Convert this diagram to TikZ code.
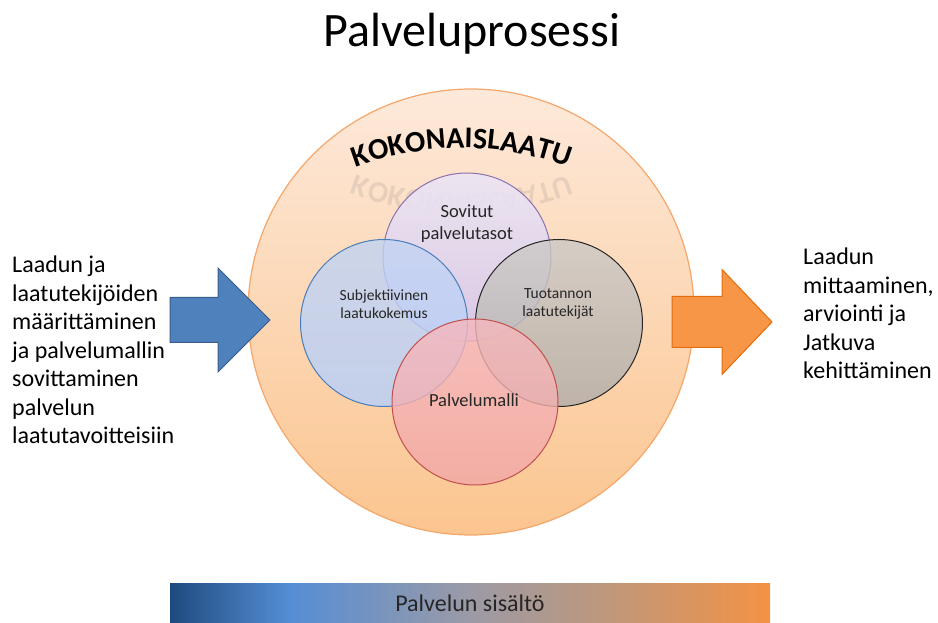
\documentclass[tikz,border=0pt]{standalone}
\usepackage{fontspec}
\setmainfont{Carlito}
\usepackage{xcolor}
\usetikzlibrary{calc}

\definecolor{kokYla}{HTML}{FDE9DA}
\definecolor{kokAla}{HTML}{FBC58F}
\definecolor{kokReuna}{HTML}{F5A66A}
\definecolor{violYla}{HTML}{ECE5F4}
\definecolor{violAla}{HTML}{D6C6E8}
\definecolor{violReuna}{HTML}{8C72AD}
\definecolor{siniYla}{HTML}{C2D3F2}
\definecolor{siniAla}{HTML}{B6D0FC}
\definecolor{siniReuna}{HTML}{4A7EBB}
\definecolor{harmYla}{HTML}{CCC9C6}
\definecolor{harmAla}{HTML}{B0ADAA}
\definecolor{harmReuna}{HTML}{262626}
\definecolor{punYla}{HTML}{F6B8BE}
\definecolor{punAla}{HTML}{F2A7A6}
\definecolor{punReuna}{HTML}{C0504D}
\definecolor{nuoliSini}{HTML}{4F81BD}
\definecolor{nuoliSiniR}{HTML}{385D8A}
\definecolor{nuoliOra}{HTML}{F79646}
\definecolor{nuoliOraR}{HTML}{E46C0A}
\definecolor{palkkiA}{HTML}{1F4A7F}
\definecolor{palkkiB}{HTML}{558ED5}
\definecolor{palkkiC}{HTML}{9C9AA6}
\definecolor{palkkiD}{HTML}{BA9880}
\definecolor{palkkiE}{HTML}{F39245}

\pgfdeclarehorizontalshading{palkkisavy}{100bp}{color(0bp)=(palkkiA); color(25bp)=(palkkiA); color(35bp)=(palkkiB); color(50bp)=(palkkiC); color(60bp)=(palkkiD); color(75bp)=(palkkiE); color(100bp)=(palkkiE)}

\tikzset{
  ympyra/.style={line width=1pt, fill opacity=0.8},
  sisateksti/.style={align=center, inner sep=0pt, text=black!85},
  sivuteksti/.style={align=left, anchor=north west, inner sep=0pt,
    font=\fontsize{24}{28.5}\selectfont},
  kirjain/.style={anchor=base, inner sep=0pt, font=\bfseries\fontsize{30}{36}\selectfont}
}

\begin{document}
\begin{tikzpicture}[x=1pt,y=1pt]
\useasboundingbox (0,0) rectangle (938,622);

% otsikko
\node[anchor=base, font=\fontsize{48}{58}\selectfont] (otsikko) at (472,575) {Palveluprosessi};

% kokonaislaatu, iso ympyra
\shade[top color=kokYla, bottom color=kokAla, draw=kokReuna, line width=1.2pt]
  (471,310) circle [radius=223];

% heijastus
\begin{scope}[shift={(0,902)}, yscale=-1, shift={(462,174)}]
  \foreach \kirj/\kulma [count=\i] in {K/109.13, O/105.66, K/102.18, O/98.71, N/94.88,
      A/91.26, I/88.76, S/86.64, L/84.07, A/81.12, A/77.65, T/74.49, U/71.20}
    \node[kirjain, transform shape, rotate=\kulma-90, text=gray, text opacity=0.18]
      (h\i) at (\kulma:300) {\kirj};
\end{scope}

% kaareva otsikko
\begin{scope}[shift={(462,174)}]
  \foreach \kirj/\kulma [count=\i] in {K/109.13, O/105.66, K/102.18, O/98.71, N/94.88,
      A/91.26, I/88.76, S/86.64, L/84.07, A/81.12, A/77.65, T/74.49, U/71.20}
    \node[kirjain, rotate=\kulma-90] (k\i) at (\kulma:300) {\kirj};
\end{scope}

% neljä ympyrää
\shade[ympyra, fill opacity=0.92, top color=violYla, bottom color=violAla, draw=violReuna]
  (467,365) circle [radius=84];
\shade[ympyra, top color=siniYla, bottom color=siniAla, draw=siniReuna]
  (384,299) circle [radius=83.5];
\shade[ympyra, top color=harmYla, bottom color=harmAla, draw=harmReuna]
  (559,299) circle [radius=83.5];
\shade[ympyra, top color=punYla, bottom color=punAla, draw=punReuna]
  (475,220) circle [radius=83];

\node[sisateksti, font=\fontsize{18.5}{22}\selectfont] (sovitut) at (467,398)
  {Sovitut\\palvelutasot};
\node[sisateksti, font=\fontsize{15.5}{18.5}\selectfont] (subj) at (384,318)
  {Subjektiivinen\\laatukokemus};
\node[sisateksti, font=\fontsize{15.5}{18.5}\selectfont] (tuot) at (558,318)
  {Tuotannon\\laatutekijät};
\node[sisateksti, anchor=base, font=\fontsize{18.5}{22}\selectfont] (malli) at (474,215)
  {Palvelumalli};

% nuolet
\draw[fill=nuoliSini, draw=nuoliSiniR, line width=1pt]
  (170,279.5) -- (218,279.5) -- (218,250) -- (270,302) -- (218,354)
  -- (218,324.5) -- (170,324.5) -- cycle;
\draw[fill=nuoliOra, draw=nuoliOraR, line width=1pt]
  (672,274.5) -- (722,274.5) -- (722,247.5) -- (772,300) -- (722,352.5)
  -- (722,325.5) -- (672,325.5) -- cycle;

% sivutekstit
\node[sivuteksti] (vasen) at (12,366)
  {Laadun ja\\laatutekijöiden\\määrittäminen\\ja palvelumallin\\sovittaminen\\palvelun\\laatutavoitteisiin};
\node[sivuteksti] (oikea) at (803,374)
  {Laadun\\mittaaminen,\\arviointi ja\\Jatkuva\\kehittäminen};

% palvelun sisältö -palkki
\shade[shading=palkkisavy] (170,0) rectangle (770,39);
\node[font=\fontsize{24}{28}\selectfont, text=black!85] (sisalto) at (470,19) {Palvelun sisältö};
\end{tikzpicture}
\end{document}
